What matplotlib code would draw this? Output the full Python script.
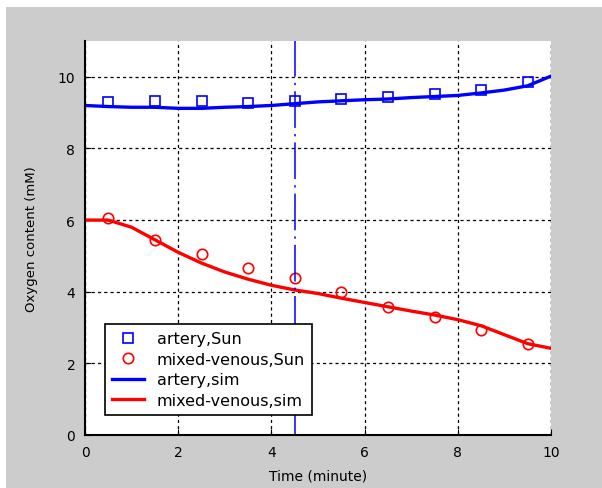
import matplotlib.pyplot as plt
from matplotlib.patches import Rectangle

# measured data (Sun)
t_data = [0.5, 1.5, 2.5, 3.5, 4.5, 5.5, 6.5, 7.5, 8.5, 9.5]
artery_sun = [9.3, 9.32, 9.32, 9.28, 9.32, 9.38, 9.45, 9.52, 9.62, 9.85]
venous_sun = [6.05, 5.45, 5.05, 4.65, 4.38, 3.98, 3.58, 3.3, 2.92, 2.55]

# simulation
t_sim = [0, 0.5, 1, 1.5, 2, 2.5, 3, 3.5, 4, 4.5, 5, 5.5, 6, 6.5, 7, 7.5, 8, 8.5, 9, 9.5, 10]
artery_sim = [9.2, 9.17, 9.15, 9.15, 9.12, 9.12, 9.15, 9.17, 9.2, 9.25, 9.3, 9.33,
              9.36, 9.38, 9.42, 9.45, 9.48, 9.55, 9.63, 9.75, 10.02]
venous_sim = [6.0, 6.0, 5.8, 5.45, 5.1, 4.8, 4.55, 4.35, 4.18, 4.05, 3.95, 3.82,
              3.7, 3.58, 3.46, 3.35, 3.22, 3.05, 2.8, 2.55, 2.42]

t_mark = 4.5

fig = plt.figure(figsize=(6.02, 4.89), dpi=100)
fig.patch.set_facecolor("white")
fig.patches.append(Rectangle((6 / 602, -0.1), 1.1, 1.1 - 8 / 489, transform=fig.transFigure,
                             facecolor="#cccccc", edgecolor="none", zorder=-10))

ax = fig.add_axes([85 / 602, 1 - 436 / 489, 466 / 602, 394 / 489])
ax.set_facecolor("white")

ax.plot(t_data, artery_sun, "s", color="blue", mfc="none", ms=7.5, mew=1.2, label="artery,Sun")
ax.plot(t_data, venous_sun, "o", color="red", mfc="none", ms=7.5, mew=1.2, label="mixed-venous,Sun")
ax.plot(t_sim, artery_sim, "-", color="blue", lw=2.4, label="artery,sim")
ax.plot(t_sim, venous_sim, "-", color="red", lw=2.4, label="mixed-venous,sim")
ax.axvline(t_mark, color="blue", lw=1.1, linestyle=(0, (24, 4, 1.5, 4)))

ax.set_xlim(0, 10)
ax.set_ylim(0, 11)
ax.set_xticks([0, 2, 4, 6, 8, 10])
ax.set_yticks([0, 2, 4, 6, 8, 10])
ax.grid(True, color="black", linestyle=(0, (2.5, 2.5)), linewidth=0.9)
ax.tick_params(direction="in", length=4, labelsize=10, pad=7)
ax.spines["top"].set_visible(False)
ax.spines["right"].set_visible(False)
ax.spines["left"].set_linewidth(1.5)
ax.spines["bottom"].set_linewidth(1.5)
ax.axvline(10, color="black", lw=0.9, linestyle=(0, (2.5, 2.5)))

ax.set_xlabel("Time (minute)", fontsize=10)
ax.set_ylabel("Oxygen content (mM)", fontsize=9.5)
ax.xaxis.set_label_coords(0.5, -0.085)
ax.yaxis.set_label_coords(-0.1, 0.5)

leg = ax.legend(loc="lower left", bbox_to_anchor=(0.025, 0.03), fontsize=11.5,
                fancybox=False, framealpha=1, edgecolor="black",
                handlelength=2.0, labelspacing=0.35, borderpad=0.45, handletextpad=0.8)
leg.get_frame().set_linewidth(1.2)

fig.savefig("out.png", dpi=100, facecolor=fig.get_facecolor())
